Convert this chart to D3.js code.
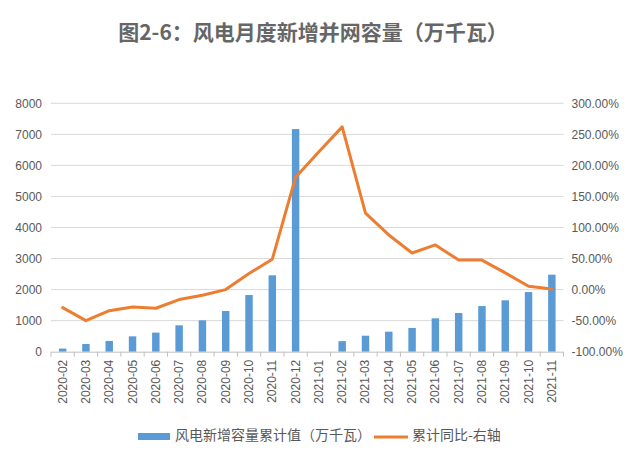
<!DOCTYPE html>
<html><head><meta charset="utf-8">
<script src="https://cdn.jsdelivr.net/npm/d3@7"></script>
<style>body{margin:0;background:#fff;} svg{display:block;font-family:"Noto Sans CJK SC","Liberation Sans",sans-serif;}</style>
</head><body>
<svg id="c" width="640" height="452"></svg>
<script>
const categories = ["2020-02","2020-03","2020-04","2020-05","2020-06","2020-07","2020-08","2020-09","2020-10","2020-11","2020-12","2021-01","2021-02","2021-03","2021-04","2021-05","2021-06","2021-07","2021-08","2021-09","2021-10","2021-11"];
const cumulative = [100,250,345,495,615,850,1010,1310,1825,2460,7170,null,340,515,645,765,1075,1245,1470,1655,1920,2480];
const yoy = [-29,-50,-34,-28,-30,-16,-9,0,26,49,181,222,262,123,88,59,72,47.5,47.5,27,5.5,1];
const leftTicks = [0,1000,2000,3000,4000,5000,6000,7000,8000];
const rightTicks = [-100,-50,0,50,100,150,200,250,300];
const title = "图2-6：风电月度新增并网容量（万千瓦）";
const legendLabels = ["风电新增容量累计值（万千瓦）","累计同比-右轴"];

const svg = d3.select("#c");
const L = 51, R = 563.5, T = 103.3, B = 351.7;
const x = d3.scaleBand().domain(categories).range([L, R]).paddingInner(0.68).paddingOuter(0.34);
const xs = d3.scaleBand().domain(categories).range([L, R]);
const yL = d3.scaleLinear().domain([0, 8000]).range([B, T]);
const yR = d3.scaleLinear().domain([-100, 300]).range([B, T]);
const txt = "#595959";

svg.append("text").attr("x", 313).attr("y", 40).attr("text-anchor", "middle")
  .attr("font-size", 21).attr("font-weight", "bold").attr("fill", "#666").text(title);

// gridlines
svg.append("g").selectAll("line").data(leftTicks.slice(1)).join("line")
  .attr("x1", L).attr("x2", R).attr("y1", d => yL(d)).attr("y2", d => yL(d))
  .attr("stroke", "#d9d9d9").attr("stroke-width", 1);

// left axis
const gl = svg.append("g").attr("transform", `translate(${L},0)`)
  .call(d3.axisLeft(yL).tickValues(leftTicks).tickSize(0).tickPadding(9).tickFormat(d3.format("d")));
gl.select(".domain").remove();
gl.selectAll("text").attr("font-size", 12).attr("fill", txt).attr("font-family", "Liberation Sans, sans-serif");

// right axis
const gr = svg.append("g").attr("transform", `translate(${R},0)`)
  .call(d3.axisRight(yR).tickValues(rightTicks).tickSize(0).tickPadding(8).tickFormat(d => d.toFixed(2) + "%"));
gr.select(".domain").remove();
gr.selectAll("text").attr("font-size", 12).attr("fill", txt).attr("font-family", "Liberation Sans, sans-serif");

// bars
svg.append("g").selectAll("rect").data(categories.map((c, i) => ({c, v: cumulative[i]})).filter(d => d.v != null)).join("rect")
  .attr("x", d => x(d.c)).attr("width", x.bandwidth())
  .attr("y", d => yL(d.v)).attr("height", d => yL(0) - yL(d.v))
  .attr("fill", "#5b9bd5");

// x axis
svg.append("line").attr("x1", L).attr("x2", R).attr("y1", B + 0.5).attr("y2", B + 0.5).attr("stroke", "#bfbfbf");
const bounds = categories.map(c => xs(c)).concat([R]);
svg.append("g").selectAll("line").data(bounds).join("line")
  .attr("x1", d => d).attr("x2", d => d).attr("y1", B).attr("y2", B + 5).attr("stroke", "#bfbfbf");
svg.append("g").selectAll("text").data(categories).join("text")
  .attr("transform", d => `translate(${xs(d) + xs.bandwidth() / 2 + 4},${B + 8}) rotate(-90)`)
  .attr("text-anchor", "end").attr("font-size", 12).attr("fill", txt)
  .attr("font-family", "Liberation Sans, sans-serif").text(d => d);

// line
const line = d3.line().x((d, i) => xs(categories[i]) + xs.bandwidth() / 2).y(d => yR(d));
svg.append("path").datum(yoy).attr("d", line).attr("fill", "none")
  .attr("stroke", "#ed7d31").attr("stroke-width", 3).attr("stroke-linejoin", "round").attr("stroke-linecap", "round");

// legend
svg.append("rect").attr("x", 138).attr("y", 433).attr("width", 32).attr("height", 7).attr("fill", "#5b9bd5");
svg.append("text").attr("x", 175).attr("y", 440).attr("font-size", 14).attr("fill", txt).text(legendLabels[0]);
svg.append("line").attr("x1", 374).attr("x2", 408).attr("y1", 437).attr("y2", 437).attr("stroke", "#ed7d31").attr("stroke-width", 3);
svg.append("text").attr("x", 412).attr("y", 440).attr("font-size", 14).attr("fill", txt).text(legendLabels[1]);
</script>
</body></html>
